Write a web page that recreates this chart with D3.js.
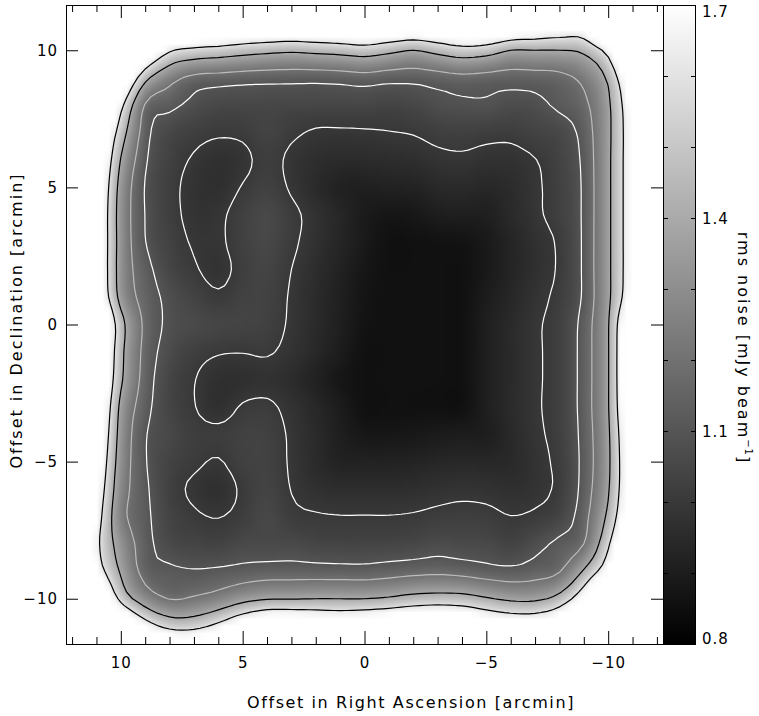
<!DOCTYPE html>
<html>
<head>
<meta charset="utf-8">
<script src="https://cdn.jsdelivr.net/npm/d3@7/dist/d3.min.js"></script>
<style>
  body { margin: 0; background: #ffffff; }
  text { font-family: "DejaVu Sans", sans-serif; fill: #000; }
</style>
</head>
<body>
<svg id="chart" width="759" height="716"></svg>
<script>
// rms noise map sampled every arcmin, read off the picture
// rows run Dec +12 .. -12, columns run RA offset +12 .. -12
const raNodes = [12, 11, 10, 9, 8, 7, 6, 5, 4, 3, 2, 1, 0, -1, -2, -3, -4, -5, -6, -7, -8, -9, -10, -11, -12];
const decNodes = [12, 11, 10, 9, 8, 7, 6, 5, 4, 3, 2, 1, 0, -1, -2, -3, -4, -5, -6, -7, -8, -9, -10, -11, -12];
const noise = [
  [2.4, 2.4, 2.4, 2.4, 2.4, 2.4, 2.4, 2.4, 2.4, 2.4, 2.4, 2.4, 2.4, 2.4, 2.4, 2.4, 2.4, 2.4, 2.4, 2.4, 2.4, 2.4, 2.4, 2.4, 2.4],
  [2.4, 2.4, 2.4, 2.4, 2.23, 2.14, 2.11, 2.05, 2.02, 1.99, 2.02, 2.05, 2.08, 2.02, 1.97, 2.02, 2.1, 2.11, 1.99, 1.93, 1.87, 1.87, 2.32, 2.4, 2.4],
  [2.4, 2.4, 2.4, 1.95, 1.63, 1.55, 1.52, 1.48, 1.45, 1.43, 1.45, 1.47, 1.5, 1.45, 1.4, 1.46, 1.52, 1.49, 1.4, 1.4, 1.4, 1.44, 1.69, 2.26, 2.4],
  [2.4, 2.4, 1.98, 1.46, 1.26, 1.17, 1.154, 1.143, 1.137, 1.134, 1.132, 1.14, 1.152, 1.136, 1.132, 1.148, 1.166, 1.156, 1.147, 1.153, 1.167, 1.24, 1.436, 1.93, 2.4],
  [2.4, 2.26, 1.66, 1.19, 1.125, 1.078, 1.054, 1.052, 1.052, 1.047, 1.047, 1.047, 1.047, 1.04, 1.05, 1.075, 1.085, 1.088, 1.07, 1.078, 1.118, 1.172, 1.369, 1.81, 2.4],
  [2.4, 2.05, 1.5, 1.14, 1.052, 1.024, 1.009, 1.013, 1.038, 1.012, 0.993, 0.992, 0.994, 0.998, 1.004, 1.022, 1.028, 1.02, 1.017, 1.038, 1.055, 1.137, 1.36, 1.78, 2.38],
  [2.4, 1.96, 1.392, 1.113, 1.032, 0.993, 0.969, 0.984, 1.02, 0.987, 0.964, 0.952, 0.954, 0.958, 0.964, 0.982, 0.988, 0.978, 0.978, 0.998, 1.038, 1.121, 1.364, 1.78, 2.38],
  [2.4, 1.9, 1.333, 1.095, 1.021, 0.981, 0.968, 1.004, 1.03, 0.992, 0.952, 0.92, 0.914, 0.92, 0.924, 0.944, 0.95, 0.94, 0.956, 0.99, 1.03, 1.115, 1.364, 1.78, 2.38],
  [2.4, 1.87, 1.318, 1.098, 1.024, 0.984, 0.988, 1.028, 1.056, 1.016, 0.976, 0.936, 0.896, 0.878, 0.884, 0.904, 0.91, 0.912, 0.948, 0.988, 1.028, 1.115, 1.364, 1.78, 2.38],
  [2.4, 1.87, 1.322, 1.103, 1.034, 0.994, 0.99, 1.03, 1.052, 1.012, 0.972, 0.932, 0.892, 0.86, 0.86, 0.864, 0.868, 0.892, 0.932, 0.972, 1.012, 1.115, 1.364, 1.78, 2.38],
  [2.4, 1.87, 1.32, 1.136, 1.048, 1.008, 0.981, 1.021, 1.04, 1.0, 0.96, 0.92, 0.88, 0.86, 0.86, 0.86, 0.86, 0.89, 0.93, 0.97, 1.01, 1.115, 1.364, 1.78, 2.38],
  [2.4, 1.9, 1.34, 1.155, 1.078, 1.038, 1.01, 1.032, 1.033, 0.993, 0.953, 0.913, 0.873, 0.86, 0.86, 0.86, 0.86, 0.9, 0.94, 0.98, 1.02, 1.115, 1.364, 1.81, 2.4],
  [2.4, 2.11, 1.47, 1.174, 1.084, 1.06, 1.044, 1.04, 1.028, 0.99, 0.95, 0.91, 0.87, 0.86, 0.86, 0.86, 0.86, 0.91, 0.95, 0.99, 1.03, 1.138, 1.388, 1.99, 2.4],
  [2.4, 2.08, 1.45, 1.164, 1.067, 1.024, 1.005, 1.002, 1.006, 0.98, 0.94, 0.9, 0.86, 0.86, 0.86, 0.86, 0.86, 0.91, 0.95, 0.99, 1.03, 1.141, 1.389, 2.02, 2.4],
  [2.4, 2.02, 1.429, 1.153, 1.045, 1.003, 0.968, 0.968, 0.976, 0.956, 0.92, 0.88, 0.86, 0.86, 0.86, 0.86, 0.86, 0.91, 0.95, 0.99, 1.03, 1.141, 1.389, 2.02, 2.4],
  [2.4, 1.96, 1.358, 1.135, 1.043, 1.003, 0.97, 1.006, 1.012, 0.978, 0.94, 0.9, 0.86, 0.86, 0.86, 0.86, 0.86, 0.911, 0.951, 0.991, 1.031, 1.141, 1.389, 1.99, 2.4],
  [2.4, 1.9, 1.33, 1.108, 1.054, 1.02, 1.015, 1.03, 1.03, 0.99, 0.95, 0.91, 0.882, 0.882, 0.886, 0.896, 0.902, 0.907, 0.947, 0.987, 1.027, 1.134, 1.373, 1.93, 2.4],
  [2.4, 1.84, 1.31, 1.107, 1.038, 1.012, 0.996, 1.028, 1.032, 0.992, 0.952, 0.922, 0.922, 0.922, 0.926, 0.936, 0.942, 0.94, 0.948, 0.98, 1.02, 1.129, 1.367, 1.9, 2.4],
  [2.4, 1.78, 1.285, 1.118, 1.029, 0.989, 0.97, 1.01, 1.038, 0.998, 0.972, 0.962, 0.962, 0.962, 0.966, 0.976, 0.982, 0.978, 0.968, 0.982, 1.018, 1.136, 1.383, 1.9, 2.4],
  [2.4, 1.72, 1.259, 1.124, 1.041, 1.01, 0.998, 1.02, 1.054, 1.016, 1.006, 1.002, 1.002, 1.002, 1.006, 1.016, 1.022, 1.018, 1.001, 1.012, 1.045, 1.159, 1.44, 1.96, 2.4],
  [2.4, 1.66, 1.32, 1.136, 1.06, 1.042, 1.036, 1.059, 1.06, 1.06, 1.046, 1.042, 1.042, 1.045, 1.052, 1.067, 1.06, 1.058, 1.038, 1.075, 1.122, 1.2, 1.567, 2.14, 2.4],
  [2.4, 1.75, 1.38, 1.155, 1.119, 1.107, 1.116, 1.132, 1.143, 1.145, 1.143, 1.14, 1.139, 1.151, 1.164, 1.173, 1.16, 1.139, 1.127, 1.148, 1.193, 1.42, 1.78, 2.38, 2.4],
  [2.4, 2.08, 1.544, 1.3, 1.196, 1.217, 1.267, 1.343, 1.388, 1.393, 1.4, 1.4, 1.4, 1.423, 1.467, 1.484, 1.473, 1.418, 1.37, 1.37, 1.47, 1.78, 2.32, 2.4, 2.4],
  [2.4, 2.4, 2.05, 1.72, 1.542, 1.538, 1.66, 1.84, 1.96, 1.96, 1.93, 1.9, 1.93, 1.97, 2.02, 2.05, 2.0, 1.9, 1.84, 1.84, 1.95, 2.29, 2.4, 2.4, 2.4],
  [2.4, 2.4, 2.4, 2.32, 2.11, 2.08, 2.26, 2.4, 2.4, 2.4, 2.4, 2.4, 2.4, 2.4, 2.4, 2.4, 2.4, 2.4, 2.4, 2.4, 2.4, 2.4, 2.4, 2.4, 2.4]
];

const levels = [1.0, 1.1, 1.2, 1.4, 1.6];
const levelColors = ["#ffffff", "#ffffff", "#bcbcbc", "#000000", "#000000"];

const xMajor = [10, 5, 0, -5, -10];
const xMinor = [12, 11, 9, 8, 7, 6, 4, 3, 2, 1, -1, -2, -3, -4, -6, -7, -8, -9, -11, -12];
const yMajor = [10, 5, 0, -5, -10];
const cbarTicks = [0.9, 1.0, 1.1, 1.2, 1.3, 1.4, 1.5, 1.6];
const cbarLabels = [0.8, 1.1, 1.4, 1.7];

const plot = {left: 66, right: 663, top: 5, bottom: 644};
const cbarRight = 696;

const svg = d3.select("#chart");
const x = d3.scaleLinear().domain([12.25, -12.25]).range([plot.left, plot.right]);
const y = d3.scaleLinear().domain([11.65, -11.65]).range([plot.top, plot.bottom]);
const cy = d3.scaleLinear().domain([0.8, 1.7]).range([plot.bottom, plot.top]);
const shade = d3.scaleLinear().domain([0.8, 1.7]).range([0, 255]).clamp(true);

// smooth the arcmin grid for display (Catmull-Rom, 4 sub-steps per cell)
const k = 4;
function cr(p0, p1, p2, p3, s) {
  const s2 = s * s, s3 = s2 * s;
  return 0.5 * (2 * p1 + (p2 - p0) * s + (2 * p0 - 5 * p1 + 4 * p2 - p3) * s2 + (3 * p1 - p0 - 3 * p2 + p3) * s3);
}
function resample(arr) {
  const n = arr.length, out = [];
  for (let i = 0; i <= (n - 1) * k; i++) {
    const i0 = Math.min(Math.floor(i / k), n - 2), s = i / k - i0;
    out.push(cr(arr[Math.max(i0 - 1, 0)], arr[i0], arr[i0 + 1], arr[Math.min(i0 + 2, n - 1)], s));
  }
  return out;
}
const rowsFine = noise.map(resample);
const nf = rowsFine[0].length;
const colsFine = d3.range(nf).map(i => resample(rowsFine.map(r => r[i])));
const mf = colsFine[0].length;
const step = (raNodes[0] - raNodes[1]) / k;

// greyscale image
const canvas = document.createElement("canvas");
canvas.width = nf;
canvas.height = mf;
const ctx = canvas.getContext("2d");
const img = ctx.createImageData(nf, mf);
for (let j = 0; j < mf; j++) {
  for (let i = 0; i < nf; i++) {
    const g = Math.round(shade(colsFine[i][j]));
    const o = 4 * (j * nf + i);
    img.data[o] = g; img.data[o + 1] = g; img.data[o + 2] = g; img.data[o + 3] = 255;
  }
}
ctx.putImageData(img, 0, 0);

svg.append("clipPath").attr("id", "clip")
  .append("rect")
  .attr("x", plot.left).attr("y", plot.top)
  .attr("width", plot.right - plot.left).attr("height", plot.bottom - plot.top);

const map = svg.append("g").attr("clip-path", "url(#clip)");

map.append("image")
  .attr("href", canvas.toDataURL())
  .attr("preserveAspectRatio", "none")
  .attr("x", x(raNodes[0] + step / 2))
  .attr("y", y(decNodes[0] + step / 2))
  .attr("width", x(raNodes[raNodes.length - 1] - step / 2) - x(raNodes[0] + step / 2))
  .attr("height", y(decNodes[decNodes.length - 1] - step / 2) - y(decNodes[0] + step / 2));

// contours on the negated field so every level is a closed blob
const flat = [];
for (let j = 0; j < mf; j++) for (let i = 0; i < nf; i++) flat.push(-colsFine[i][j]);
const contours = d3.contours().size([nf, mf]).thresholds(levels.map(v => -v))(flat);

const proj = d3.geoTransform({
  point: function (px, py) {
    this.stream.point(x(raNodes[0] + step / 2 - px * step), y(decNodes[0] + step / 2 - py * step));
  }
});
const path = d3.geoPath(proj);

map.selectAll("path.contour")
  .data(contours)
  .join("path")
  .attr("class", "contour")
  .attr("d", path)
  .attr("fill", "none")
  .attr("stroke", d => levelColors[levels.findIndex(l => Math.abs(l + d.value) < 1e-9)])
  .attr("stroke-width", 1.2)
  .attr("stroke-linejoin", "round");

// axes, ticks pointing inwards
function styleAxis(g) {
  g.attr("font-family", null).attr("font-size", null);
  g.select(".domain").remove();
  g.selectAll(".tick line").attr("stroke", "#000");
  g.selectAll(".tick text").style("font-size", "15px").style("letter-spacing", "1px");
}

svg.append("g")
  .attr("transform", `translate(0,${plot.bottom})`)
  .call(d3.axisBottom(x).tickValues(xMajor).tickSize(-13).tickPadding(13))
  .call(styleAxis);
svg.append("g")
  .attr("transform", `translate(0,${plot.bottom})`)
  .call(d3.axisBottom(x).tickValues(xMinor).tickSize(-7).tickFormat(""))
  .call(styleAxis);
svg.append("g")
  .attr("transform", `translate(0,${plot.top})`)
  .call(d3.axisTop(x).tickValues(xMajor).tickSize(-13).tickFormat(""))
  .call(styleAxis);
svg.append("g")
  .attr("transform", `translate(0,${plot.top})`)
  .call(d3.axisTop(x).tickValues(xMinor).tickSize(-7).tickFormat(""))
  .call(styleAxis);
svg.append("g")
  .attr("transform", `translate(${plot.left},0)`)
  .call(d3.axisLeft(y).tickValues(yMajor).tickSize(-12).tickPadding(8))
  .call(styleAxis);
svg.append("g")
  .attr("transform", `translate(${plot.right},0)`)
  .call(d3.axisRight(y).tickValues(yMajor).tickSize(-12).tickFormat(""))
  .call(styleAxis);

svg.append("rect")
  .attr("x", plot.left + 0.5).attr("y", plot.top + 0.5)
  .attr("width", plot.right - plot.left).attr("height", plot.bottom - plot.top)
  .attr("fill", "none").attr("stroke", "#000");

// colour bar
const grad = svg.append("defs").append("linearGradient")
  .attr("id", "cbar").attr("x1", 0).attr("y1", 0).attr("x2", 0).attr("y2", 1);
grad.append("stop").attr("offset", "0%").attr("stop-color", "#ffffff");
grad.append("stop").attr("offset", "100%").attr("stop-color", "#000000");

svg.append("rect")
  .attr("x", plot.right).attr("y", cy(1.7))
  .attr("width", cbarRight - plot.right).attr("height", cy(0.8) - cy(1.7))
  .attr("fill", "url(#cbar)");
svg.append("rect")
  .attr("x", plot.right + 0.5).attr("y", cy(1.7) + 0.5)
  .attr("width", cbarRight - plot.right - 1).attr("height", cy(0.8) - cy(1.7))
  .attr("fill", "none").attr("stroke", "#000");

svg.selectAll("line.cbl")
  .data(cbarTicks)
  .join("line")
  .attr("class", "cbl")
  .attr("x1", plot.right).attr("x2", plot.right + 5)
  .attr("y1", d => Math.round(cy(d)) + 0.5).attr("y2", d => Math.round(cy(d)) + 0.5)
  .attr("stroke", "#000");
svg.selectAll("line.cbr")
  .data(cbarTicks)
  .join("line")
  .attr("class", "cbr")
  .attr("x1", cbarRight - 5).attr("x2", cbarRight)
  .attr("y1", d => Math.round(cy(d)) + 0.5).attr("y2", d => Math.round(cy(d)) + 0.5)
  .attr("stroke", "#000");

svg.selectAll("text.cbt")
  .data(cbarLabels)
  .join("text")
  .attr("class", "cbt")
  .attr("x", cbarRight + 6)
  .attr("y", d => d === 1.7 ? cy(d) + 12 : d === 0.8 ? cy(d) : cy(d) + 5.5)
  .style("font-size", "15px")
  .style("letter-spacing", "1px")
  .text(d => d3.format(".1f")(d));

// titles
svg.append("text")
  .attr("x", 411).attr("y", 708)
  .attr("text-anchor", "middle")
  .style("font-size", "16px").style("letter-spacing", "1.6px")
  .text("Offset in Right Ascension [arcmin]");

svg.append("text")
  .attr("transform", `translate(22,${(plot.top + plot.bottom) / 2 - 4}) rotate(-90)`)
  .attr("text-anchor", "middle")
  .style("font-size", "16px").style("letter-spacing", "2px")
  .text("Offset in Declination [arcmin]");

const ct = svg.append("text")
  .attr("transform", "translate(738,348) rotate(90)")
  .attr("text-anchor", "middle")
  .style("font-size", "16px").style("letter-spacing", "2px");
ct.append("tspan").text("rms noise [mJy beam");
ct.append("tspan").attr("dy", -7).style("font-size", "10px").style("letter-spacing", "1px").text("\u22121");
ct.append("tspan").attr("dy", 7).text("]");
</script>
</body>
</html>
